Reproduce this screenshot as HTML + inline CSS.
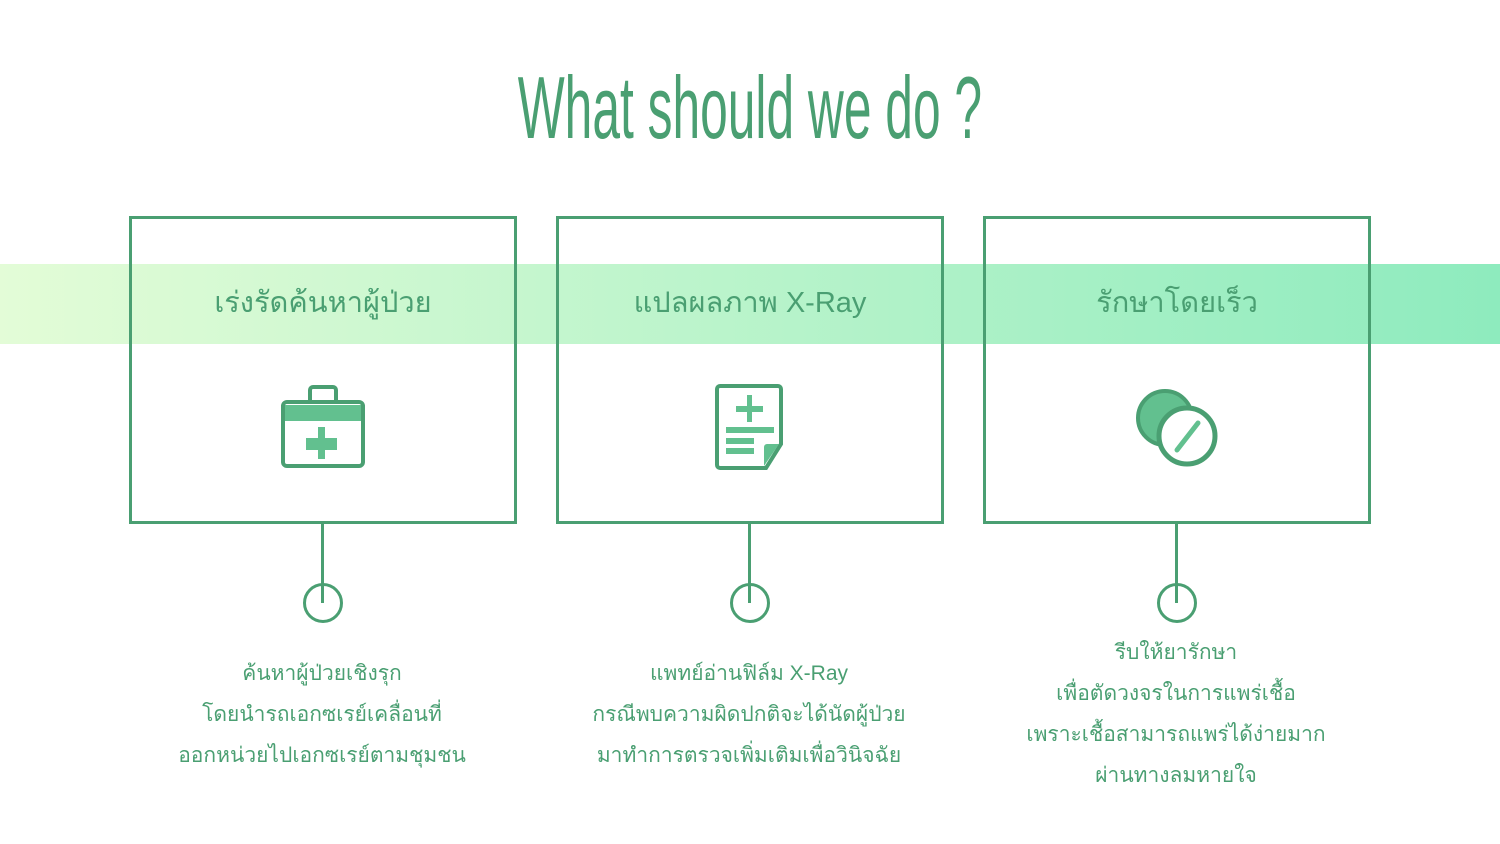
<!DOCTYPE html>
<html><head><meta charset="utf-8"><style>
body{margin:0;width:1500px;height:844px;background:#fff;position:relative;overflow:hidden;font-family:"Liberation Sans",sans-serif;color:#4a9f72}
.title{position:absolute;left:0;width:1500px;top:58px;text-align:center;font-size:88px;line-height:100px}
.title span{display:inline-block;transform:scaleX(0.565);white-space:nowrap}
.band{position:absolute;left:0;top:264px;width:1500px;height:80px;background:linear-gradient(90deg,#e3fcd7,#8eebbe)}
.box{position:absolute;top:216px;width:382px;height:302px;border:3px solid #4a9f72}
.h{position:absolute;top:283px;width:388px;text-align:center;font-size:29px;line-height:40px;color:#4a9f72}
.line{position:absolute;top:523px;width:3px;height:80px;background:#4a9f72}
.circ{position:absolute;top:583px;width:34px;height:34px;border:3px solid #4a9f72;border-radius:50%}
.t{position:absolute;width:500px;text-align:center;font-size:21px;line-height:41px;color:#4a9f72}
svg{position:absolute}
</style></head><body>
<div class="title"><span>What should we do ?</span></div>
<div class="band"></div>
<div class="box" style="left:129px"></div>
<div class="box" style="left:556px"></div>
<div class="box" style="left:983px"></div>
<div class="h" style="left:129px">เร่งรัดค้นหาผู้ป่วย</div>
<div class="h" style="left:556px">แปลผลภาพ X-Ray</div>
<div class="h" style="left:983px">รักษาโดยเร็ว</div>

<svg style="left:280px;top:384px" width="86" height="86" viewBox="0 0 86 86">
<rect x="10" y="3" width="26" height="20" rx="3" fill="none" stroke="#4a9f72" stroke-width="4" transform="translate(20 0)"/>
<rect x="3" y="18" width="80" height="64" rx="4" fill="#fff" stroke="#4a9f72" stroke-width="4"/>
<rect x="5" y="21" width="76" height="16" fill="#62c08f"/>
<rect x="38" y="43" width="7" height="32" fill="#62c08f"/>
<rect x="26" y="54" width="31" height="12" fill="#62c08f"/>
</svg>
<svg style="left:714px;top:384px" width="72" height="86" viewBox="0 0 72 86">
<path d="M6 2H64a3 3 0 0 1 3 3V60L52 84H6a3 3 0 0 1-3-3V5a3 3 0 0 1 3-3z" fill="#fff" stroke="#4a9f72" stroke-width="4"/>
<path d="M50 82L65 60H53a3 3 0 0 0-3 3z" fill="#62c08f"/>
<rect x="33" y="11" width="5" height="27" fill="#62c08f"/>
<rect x="22" y="22" width="27" height="6" fill="#62c08f"/>
<rect x="12" y="43" width="48" height="6" fill="#62c08f"/>
<rect x="12" y="54" width="28" height="6" fill="#62c08f"/>
<rect x="12" y="64" width="28" height="6" fill="#62c08f"/>
</svg>
<svg style="left:1134px;top:384px" width="86" height="86" viewBox="0 0 86 86">
<circle cx="31" cy="34" r="27" fill="#62c08f" stroke="#4a9f72" stroke-width="4"/>
<circle cx="53" cy="52" r="28" fill="#fff" stroke="#4a9f72" stroke-width="5"/>
<line x1="43" y1="66" x2="64" y2="39" stroke="#62c08f" stroke-width="5" stroke-linecap="round"/>
</svg>

<div class="circ" style="left:303px"></div>
<div class="circ" style="left:730px"></div>
<div class="circ" style="left:1157px"></div>
<div class="line" style="left:321px"></div>
<div class="line" style="left:748px"></div>
<div class="line" style="left:1175px"></div>

<div class="t" style="left:72px;top:653px">ค้นหาผู้ป่วยเชิงรุก<br>โดยนำรถเอกซเรย์เคลื่อนที่<br>ออกหน่วยไปเอกซเรย์ตามชุมชน</div>
<div class="t" style="left:499px;top:653px">แพทย์อ่านฟิล์ม X-Ray<br>กรณีพบความผิดปกติจะได้นัดผู้ป่วย<br>มาทำการตรวจเพิ่มเติมเพื่อวินิจฉัย</div>
<div class="t" style="left:926px;top:632px">รีบให้ยารักษา<br>เพื่อตัดวงจรในการแพร่เชื้อ<br>เพราะเชื้อสามารถแพร่ได้ง่ายมาก<br>ผ่านทางลมหายใจ</div>
</body></html>
